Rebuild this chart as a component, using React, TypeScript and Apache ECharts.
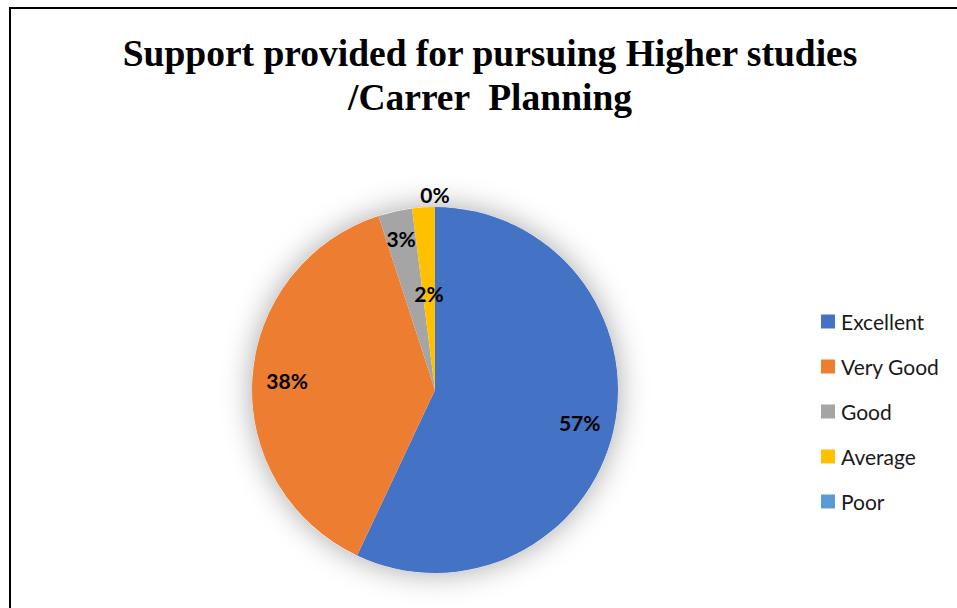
import React, { useEffect, useRef } from "react";
import * as echarts from "echarts";

const categories = ["Excellent", "Very Good", "Good", "Average", "Poor"];
const values = [57, 38, 3, 2, 0];
const colors = ["#4472C4", "#ED7D31", "#A5A5A5", "#FFC000", "#5B9BD5"];
// label distance from center, as a fraction of the pie radius
const labelRadiusFraction = [0.81, 0.81, 0.85, 0.53, 1.07];

const CX = 435;
const CY = 390;
const R = 183;

export default function App() {
  const ref = useRef<HTMLDivElement>(null);

  useEffect(() => {
    if (!ref.current) return;
    const chart = echarts.init(ref.current, undefined, { renderer: "svg" });
    const total = values.reduce((a, b) => a + b, 0);
    const midAngles: number[] = [];
    let acc = 0;
    values.forEach((v) => {
      midAngles.push(((acc + v / 2) / total) * Math.PI * 2);
      acc += v;
    });

    chart.setOption({
      animation: false,
      backgroundColor: "#ffffff",
      graphic: [
        {
          type: "rect",
          shape: { x: 10, y: 8, width: 1000, height: 700 },
          style: { fill: "none", stroke: "#000", lineWidth: 2 },
          silent: true,
          z: 0,
        },
        {
          type: "text",
          x: 490,
          y: 31,
          style: {
            text: "Support provided for pursuing Higher studies\n/Carrer  Planning",
            font: 'bold 37.5px "Liberation Serif"',
            fill: "#000",
            textAlign: "center",
            textVerticalAlign: "top",
            lineHeight: 44,
          },
          silent: true,
        },
      ],
      legend: {
        data: categories,
        orient: "vertical",
        left: 821,
        top: 311,
        padding: 0,
        icon: "rect",
        itemWidth: 14,
        itemHeight: 14,
        itemGap: 24,
        selectedMode: false,
        textStyle: {
          fontFamily: "Lato",
          fontSize: 21,
          color: "#1a1a1a",
          padding: [0, 0, 0, 1],
        },
      },
      series: [
        {
          type: "pie",
          name: "shadow",
          center: [CX, CY],
          radius: [0, R],
          silent: true,
          z: 1,
          label: { show: false },
          labelLine: { show: false },
          itemStyle: {
            color: "#ffffff",
            shadowBlur: 30,
            shadowColor: "rgba(0,0,0,0.35)",
          },
          data: [{ value: 1, name: "__shadow" }],
        },
        {
          type: "pie",
          name: "Support",
          center: [CX, CY],
          radius: [0, R],
          startAngle: 90,
          clockwise: true,
          z: 2,
          silent: true,
          avoidLabelOverlap: false,
          itemStyle: { borderWidth: 0 },
          label: {
            show: true,
            position: "inside",
            formatter: (p: any) => `${Math.round(p.percent)}%`,
            fontFamily: "Lato",
            fontWeight: "bold",
            fontSize: 21,
            color: "#000",
          },
          labelLine: { show: false },
          labelLayout: (p: any) => {
            const i = p.dataIndex;
            const a = midAngles[i];
            const r = R * labelRadiusFraction[i];
            return {
              x: CX + r * Math.sin(a),
              y: CY - r * Math.cos(a),
              align: "center",
              verticalAlign: "middle",
            };
          },
          data: categories.map((name, i) => ({
            name,
            value: values[i],
            itemStyle: { color: colors[i] },
          })),
        },
      ],
    });
    return () => chart.dispose();
  }, []);

  return (
    <div
      ref={ref}
      style={{ position: "fixed", left: 0, top: 0, width: 957, height: 608 }}
    />
  );
}
